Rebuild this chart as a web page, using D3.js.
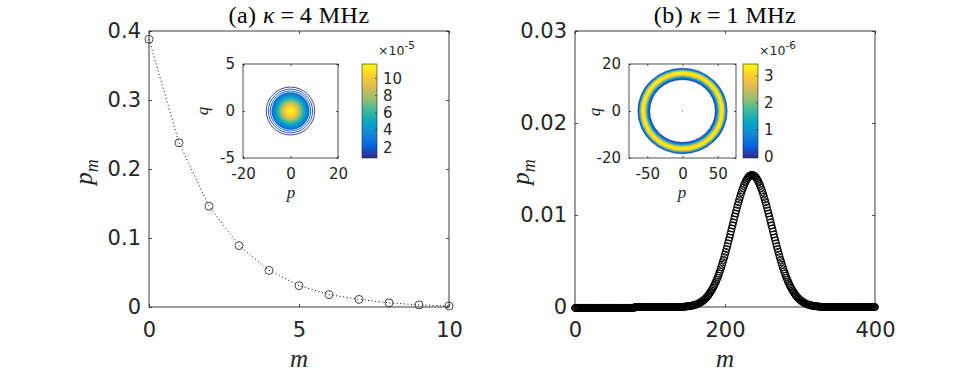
<!DOCTYPE html>
<html>
<head>
<meta charset="utf-8">
<script src="https://cdn.jsdelivr.net/npm/d3@7"></script>
<style>
body { margin: 0; background: #fff; }
</style>
</head>
<body>
<script>
// ---- panel (a): kappa = 4 MHz
const mA = [0, 1, 2, 3, 4, 5, 6, 7, 8, 9, 10];
const pmA = [0.388, 0.238, 0.146, 0.089, 0.053, 0.031, 0.018, 0.011, 0.006, 0.003, 0.0015];
const xTicksA = [0, 5, 10];
const yTicksA = [0, 0.1, 0.2, 0.3, 0.4];

// inset (a): contour levels (x1e-5) and their radius along p
const levelsA = [0.9, 1.4, 2.0, 2.5, 3.0, 3.5, 4.0, 4.5, 5.0, 5.5, 6.0, 6.5, 7.0, 7.5, 8.0, 8.5, 9.0, 9.5, 10.0, 10.5, 11.0, 11.5];
const radiiA = [10.2, 9.3, 8.5, 7.9, 7.4, 7.0, 6.6, 6.2, 5.9, 5.5, 5.2, 4.9, 4.5, 4.2, 3.9, 3.6, 3.2, 2.9, 2.5, 2.0, 1.5, 0.6];
const ringAspectA = 0.25;          // q per p for the contours
const pTicksA = [-20, 0, 20];
const qTicksA = [-5, 0, 5];
const cbarRangeA = [0.76, 11.66];
const cbarTicksA = [2, 4, 6, 8, 10];

// ---- panel (b): kappa = 1 MHz, m = 0..400
const pmB = [
-0.0001,-0.0001,-0.0001,-0.0001,-0.0001,-0.0001,-0.0001,-0.0001,-0.0001,-0.0001,
-0.0001,-0.0001,-0.0001,-0.0001,-0.0001,-0.0001,-0.0001,-0.0001,-0.0001,-0.0001,
-0.0001,-0.0001,-0.0001,-0.0001,-0.0001,-0.0001,-0.0001,-0.0001,-0.0001,-0.0001,
-0.0001,-0.0001,-0.0001,-0.0001,-0.0001,-0.0001,-0.0001,-0.0001,-0.0001,-0.0001,
-0.0001,-0.0001,-0.0001,-0.0001,-0.0001,-0.0001,-0.0001,-0.0001,-0.0001,-0.0001,
-0.0001,-0.0001,-0.0001,-0.0001,-0.0001,-0.0001,-0.0001,-0.0001,-0.0001,-0.0001,
-0.0001,-0.0001,-0.0001,-0.0001,-0.0001,-0.0001,-0.0001,-0.0001,-0.0001,-0.0001,
-0.0001,-0.0001,-0.0001,-0.0001,-0.0001,-0.0001,-0.0001,-0.0001,-0.0001,-0.0001,
0,0,0,0,0,0,0,0,0,0,
0,0,0,0,0,0,0,0,0,0,
0,0,0,0,0,0,0,0,0,0,
0,0,0,0,0,0,0,0,0,0,
0,0,0,0,0,0,0,0,0,0,
0,0,0,0,0,0,0,0,0,0,
0,0,0,0,0,0,
0.00004,0.00005,0.00006,0.00007,0.00007,0.00008,0.00009,0.00011,0.00012,0.00013,
0.00015,0.00017,0.00019,0.00021,0.00023,0.00026,0.00029,0.00032,0.00036,0.00040,
0.00044,0.00048,0.00053,0.00059,0.00065,0.00071,0.00078,0.00085,0.00093,0.00101,
0.00111,0.00120,0.00131,0.00142,0.00154,0.00167,0.00180,0.00194,0.00209,0.00225,
0.00242,0.00260,0.00278,0.00298,0.00318,0.00339,0.00362,0.00385,0.00409,0.00434,
0.00459,0.00486,0.00513,0.00541,0.00570,0.00600,0.00630,0.00661,0.00692,0.00724,
0.00756,0.00789,0.00821,0.00854,0.00887,0.00920,0.00952,0.00985,0.01017,0.01048,
0.01079,0.01110,0.01139,0.01168,0.01196,0.01223,0.01248,0.01272,0.01295,0.01317,
0.01336,0.01355,0.01371,0.01386,0.01399,0.01410,0.01419,0.01426,0.01431,0.01434,
0.01435,
0.01434,0.01431,0.01426,0.01419,0.01410,0.01399,0.01386,0.01371,0.01355,0.01336,
0.01317,0.01295,0.01272,0.01248,0.01223,0.01196,0.01168,0.01139,0.01110,0.01079,
0.01048,0.01017,0.00985,0.00952,0.00920,0.00887,0.00854,0.00821,0.00789,0.00756,
0.00724,0.00692,0.00661,0.00630,0.00600,0.00570,0.00541,0.00513,0.00486,0.00459,
0.00434,0.00409,0.00385,0.00362,0.00339,0.00318,0.00298,0.00278,0.00260,0.00242,
0.00225,0.00209,0.00194,0.00180,0.00167,0.00154,0.00142,0.00131,0.00120,0.00111,
0.00101,0.00093,0.00085,0.00078,0.00071,0.00065,0.00059,0.00053,0.00048,0.00044,
0.00040,0.00036,0.00032,0.00029,0.00026,0.00023,0.00021,0.00019,0.00017,0.00015,
0.00013,0.00012,0.00011,0.00009,0.00008,0.00007,0.00007,0.00006,0.00005,0.00004,
0,0,0,0,0,0,0,0,0,0,
0,0,0,0,0,0,0,0,0,0,
0,0,0,0,0,0,0,0,0,0,
0,0,0,0,0,0,0,0,0,0,
0,0,0,0,0,0,0,0,0,0,
0,0,0,0,0,0,0,0,0,0,
0,0,0,0,0,0,0,0,0,0,
0,0,0,0
];
const mB = d3.range(pmB.length);
const xTicksB = [0, 200, 400];
const yTicksB = [0, 0.01, 0.02, 0.03];

// inset (b): ring levels (x1e-6) with inner / outer radius along p
const levelsB = [0.1, 0.5, 1.0, 1.5, 2.0, 2.5, 3.0, 3.3];
const innerB = [46.5, 48.0, 49.5, 50.5, 51.5, 52.5, 53.5, 54.8];
const outerB = [63.5, 62.5, 61.5, 60.8, 60.0, 59.3, 58.5, 57.3];
const ringAspectB = 0.287;
const pTicksB = [-50, 0, 50];
const qTicksB = [-20, 0, 20];
const cbarRangeB = [-0.06, 3.45];
const cbarTicksB = [0, 1, 2, 3];

// parula colormap
const parula = ["#352a87", "#0363e1", "#1485d4", "#06a7c6", "#38b99e", "#92bf73", "#d9ba56", "#fcce2e", "#f9fb0e"];
const parulaInterp = d3.piecewise(d3.interpolateRgb, parula);

const width = 967;
const height = 378;
const ink = "#262626";
const sans = "DejaVu Sans, sans-serif";
const serif = "Liberation Serif, Times New Roman, serif";

let svg = d3.select("body")
	.append("svg")
		.attr("width", width)
		.attr("height", height)
		.style("background", "#fff");

let defs = svg.append("defs");
defs.append("linearGradient")
		.attr("id", "parulaGrad")
		.attr("x1", 0).attr("y1", 1).attr("x2", 0).attr("y2", 0)
	.selectAll("stop")
	.data(parula)
	.enter()
	.append("stop")
		.attr("offset", (d, i) => i / (parula.length - 1))
		.attr("stop-color", d => d);

function styleAxis(g, size) {
	g.select(".domain").remove();
	g.attr("font-family", sans)
	 .attr("font-size", size)
	 .attr("color", ink);
	g.selectAll(".tick line").attr("stroke-width", 0.8);
}

// box with ticks on all four sides
function drawAxes(o) {
	let x = d3.scaleLinear().domain(o.xDomain).range([o.left, o.right]);
	let y = d3.scaleLinear().domain(o.yDomain).range([o.bottom, o.top]);
	let g = svg.append("g");

	g.append("rect")
		.attr("x", o.left).attr("y", o.top)
		.attr("width", o.right - o.left).attr("height", o.bottom - o.top)
		.attr("fill", "#fff")
		.attr("stroke", ink)
		.attr("stroke-width", o.stroke);

	g.append("g")
		.attr("transform", `translate(0,${o.bottom})`)
		.call(d3.axisBottom(x).tickValues(o.xTicks).tickSize(-o.tick).tickSizeOuter(0)
			.tickPadding(o.xPad).tickFormat(d => String(d)))
		.call(styleAxis, o.font);
	g.append("g")
		.attr("transform", `translate(${o.left},0)`)
		.call(d3.axisLeft(y).tickValues(o.yTicks).tickSize(-o.tick).tickSizeOuter(0)
			.tickPadding(o.yPad).tickFormat(d => String(d)))
		.call(styleAxis, o.font);
	g.append("g")
		.attr("transform", `translate(0,${o.top})`)
		.call(d3.axisTop(x).tickValues(o.xTicks).tickSize(-o.tick).tickSizeOuter(0).tickFormat(""))
		.call(styleAxis, o.font);
	g.append("g")
		.attr("transform", `translate(${o.right},0)`)
		.call(d3.axisRight(y).tickValues(o.yTicks).tickSize(-o.tick).tickSizeOuter(0).tickFormat(""))
		.call(styleAxis, o.font);
	return {x, y, g};
}

function ellipsePath(cx, cy, rx, ry) {
	return `M${cx - rx},${cy}A${rx},${ry} 0 1,0 ${cx + rx},${cy}A${rx},${ry} 0 1,0 ${cx - rx},${cy}Z`;
}

function italicLabel(g, x, y, main, sub, size, rotate) {
	let t = g.append("text")
		.attr("transform", `translate(${x},${y})` + (rotate ? " rotate(-90)" : ""))
		.attr("text-anchor", "middle")
		.attr("font-family", serif)
		.attr("font-style", "italic")
		.attr("font-size", size)
		.attr("fill", ink)
		.text(main);
	if (sub) {
		t.append("tspan").attr("font-size", size * 0.72).attr("dy", size * 0.22).text(sub);
	}
}

function title(x, y, label, value) {
	let t = svg.append("text")
		.attr("x", x).attr("y", y)
		.attr("text-anchor", "middle")
		.attr("font-family", serif)
		.attr("font-size", 24)
		.attr("letter-spacing", 0.5)
		.attr("fill", "#000")
		.text(label + " ");
	t.append("tspan").attr("font-style", "italic").text("\u03ba");
	t.append("tspan").text("\u2009=\u2009" + value + " MHz");
}

function colorbar(o) {
	let s = d3.scaleLinear().domain(o.range).range([o.bottom, o.top]);
	let g = svg.append("g");
	g.append("rect")
		.attr("x", o.left).attr("y", o.top)
		.attr("width", o.right - o.left).attr("height", o.bottom - o.top)
		.attr("fill", "url(#parulaGrad)")
		.attr("stroke", ink)
		.attr("stroke-width", 0.6);
	g.selectAll(".cbtick")
		.data(o.ticks)
		.enter()
		.append("line")
			.attr("x1", o.right - 2).attr("x2", o.right)
			.attr("y1", d => s(d)).attr("y2", d => s(d))
			.attr("stroke", ink)
			.attr("stroke-width", 0.6);
	g.selectAll(".cblabel")
		.data(o.ticks)
		.enter()
		.append("text")
			.attr("x", o.right + 6)
			.attr("y", d => s(d))
			.attr("dy", "0.35em")
			.attr("font-family", sans)
			.attr("font-size", 15)
			.attr("fill", ink)
			.text(d => d);
	// exponent above the bar
	let e = g.append("text")
		.attr("x", o.right + 1)
		.attr("y", o.top - 9)
		.attr("font-family", sans)
		.attr("font-size", 12.5)
		.attr("fill", ink)
		.text("\u00d710");
	e.append("tspan").attr("dy", -6).attr("font-size", 10.5).text(o.exp);
	return s;
}

//DRAWING PANEL (a)
let A = drawAxes({left: 149, right: 449, top: 31, bottom: 307, xDomain: [0, 10], yDomain: [0, 0.4],
	xTicks: xTicksA, yTicks: yTicksA, tick: 3, font: 21, xPad: 15, yPad: 8, stroke: 0.9});

A.g.append("path")
	.datum(pmA)
	.attr("fill", "none")
	.attr("stroke", "#000")
	.attr("stroke-width", 1)
	.attr("stroke-dasharray", "1,2.6")
	.attr("d", d3.line().x((d, i) => A.x(mA[i])).y(d => A.y(d)));

A.g.selectAll(".markA")
	.data(pmA)
	.enter()
	.append("circle")
		.attr("cx", (d, i) => A.x(mA[i]))
		.attr("cy", d => A.y(d))
		.attr("r", 4)
		.attr("fill", "none")
		.attr("stroke", "#333")
		.attr("stroke-width", 0.9);

title(299, 23, "(a)", 4);
italicLabel(svg, 299, 367, "m", null, 25, false);
italicLabel(svg, 92, 172, "p", "m", 25, true);

// inset (a)
let IA = drawAxes({left: 243, right: 338, top: 64, bottom: 158, xDomain: [-20, 20], yDomain: [-5, 5],
	xTicks: pTicksA, yTicks: qTicksA, tick: 2, font: 15, xPad: 10, yPad: 8, stroke: 0.8});
let colorA = v => parulaInterp((v - cbarRangeA[0]) / (cbarRangeA[1] - cbarRangeA[0]));
let ox = IA.x(0), oy = IA.y(0);
let pxA = IA.x(1) - IA.x(0), pyA = IA.y(0) - IA.y(1);

IA.g.selectAll(".ringA")
	.data(levelsA)
	.enter()
	.append("path")
		.attr("d", (d, i) => ellipsePath(ox, oy, radiiA[i] * pxA, radiiA[i] * ringAspectA * pyA))
		.attr("fill", d => d >= 2.5 ? colorA(d) : "none")
		.attr("stroke", d => colorA(d))
		.attr("stroke-width", d => d >= 2.5 ? 0.6 : 0.9);

italicLabel(svg, 208, 111, "q", null, 17, true);
italicLabel(svg, 291, 198, "p", null, 17, false);
colorbar({left: 362, right: 377, top: 64, bottom: 158, range: cbarRangeA, ticks: cbarTicksA, exp: "-5"});

//DRAWING PANEL (b)
let B = drawAxes({left: 575, right: 875, top: 31, bottom: 307, xDomain: [0, 400], yDomain: [0, 0.03],
	xTicks: xTicksB, yTicks: yTicksB, tick: 3, font: 21, xPad: 15, yPad: 8, stroke: 0.9});

B.g.selectAll(".markB")
	.data(pmB)
	.enter()
	.append("circle")
		.attr("cx", (d, i) => B.x(mB[i]))
		.attr("cy", d => B.y(d))
		.attr("r", 3.5)
		.attr("fill", "none")
		.attr("stroke", "#000")
		.attr("stroke-width", 1);

title(725, 23, "(b)", 1);
italicLabel(svg, 725, 367, "m", null, 25, false);
italicLabel(svg, 529, 172, "p", "m", 25, true);

// inset (b)
let IB = drawAxes({left: 629, right: 736, top: 64, bottom: 158, xDomain: [-76, 76], yDomain: [-20, 20],
	xTicks: pTicksB, yTicks: qTicksB, tick: 2, font: 15, xPad: 10, yPad: 8, stroke: 0.8});
let colorB = v => parulaInterp((v - cbarRangeB[0]) / (cbarRangeB[1] - cbarRangeB[0]));
let bx = IB.x(0), by = IB.y(0);
let pxB = IB.x(1) - IB.x(0), pyB = IB.y(0) - IB.y(1);

IB.g.selectAll(".ringB")
	.data(levelsB)
	.enter()
	.append("path")
		.attr("d", (d, i) =>
			ellipsePath(bx, by, outerB[i] * pxB, outerB[i] * ringAspectB * pyB) +
			ellipsePath(bx, by, innerB[i] * pxB, innerB[i] * ringAspectB * pyB))
		.attr("fill-rule", "evenodd")
		.attr("fill", d => colorB(d))
		.attr("stroke", d => colorB(d))
		.attr("stroke-width", 0.5);

IB.g.append("rect")
	.attr("x", bx - 0.5).attr("y", by - 0.5)
	.attr("width", 1).attr("height", 1)
	.attr("fill", "#555");

italicLabel(svg, 600, 112, "q", null, 17, true);
italicLabel(svg, 682, 198, "p", null, 17, false);
colorbar({left: 743, right: 758, top: 64, bottom: 158, range: cbarRangeB, ticks: cbarTicksB, exp: "-6"});
</script>
</body>
</html>
